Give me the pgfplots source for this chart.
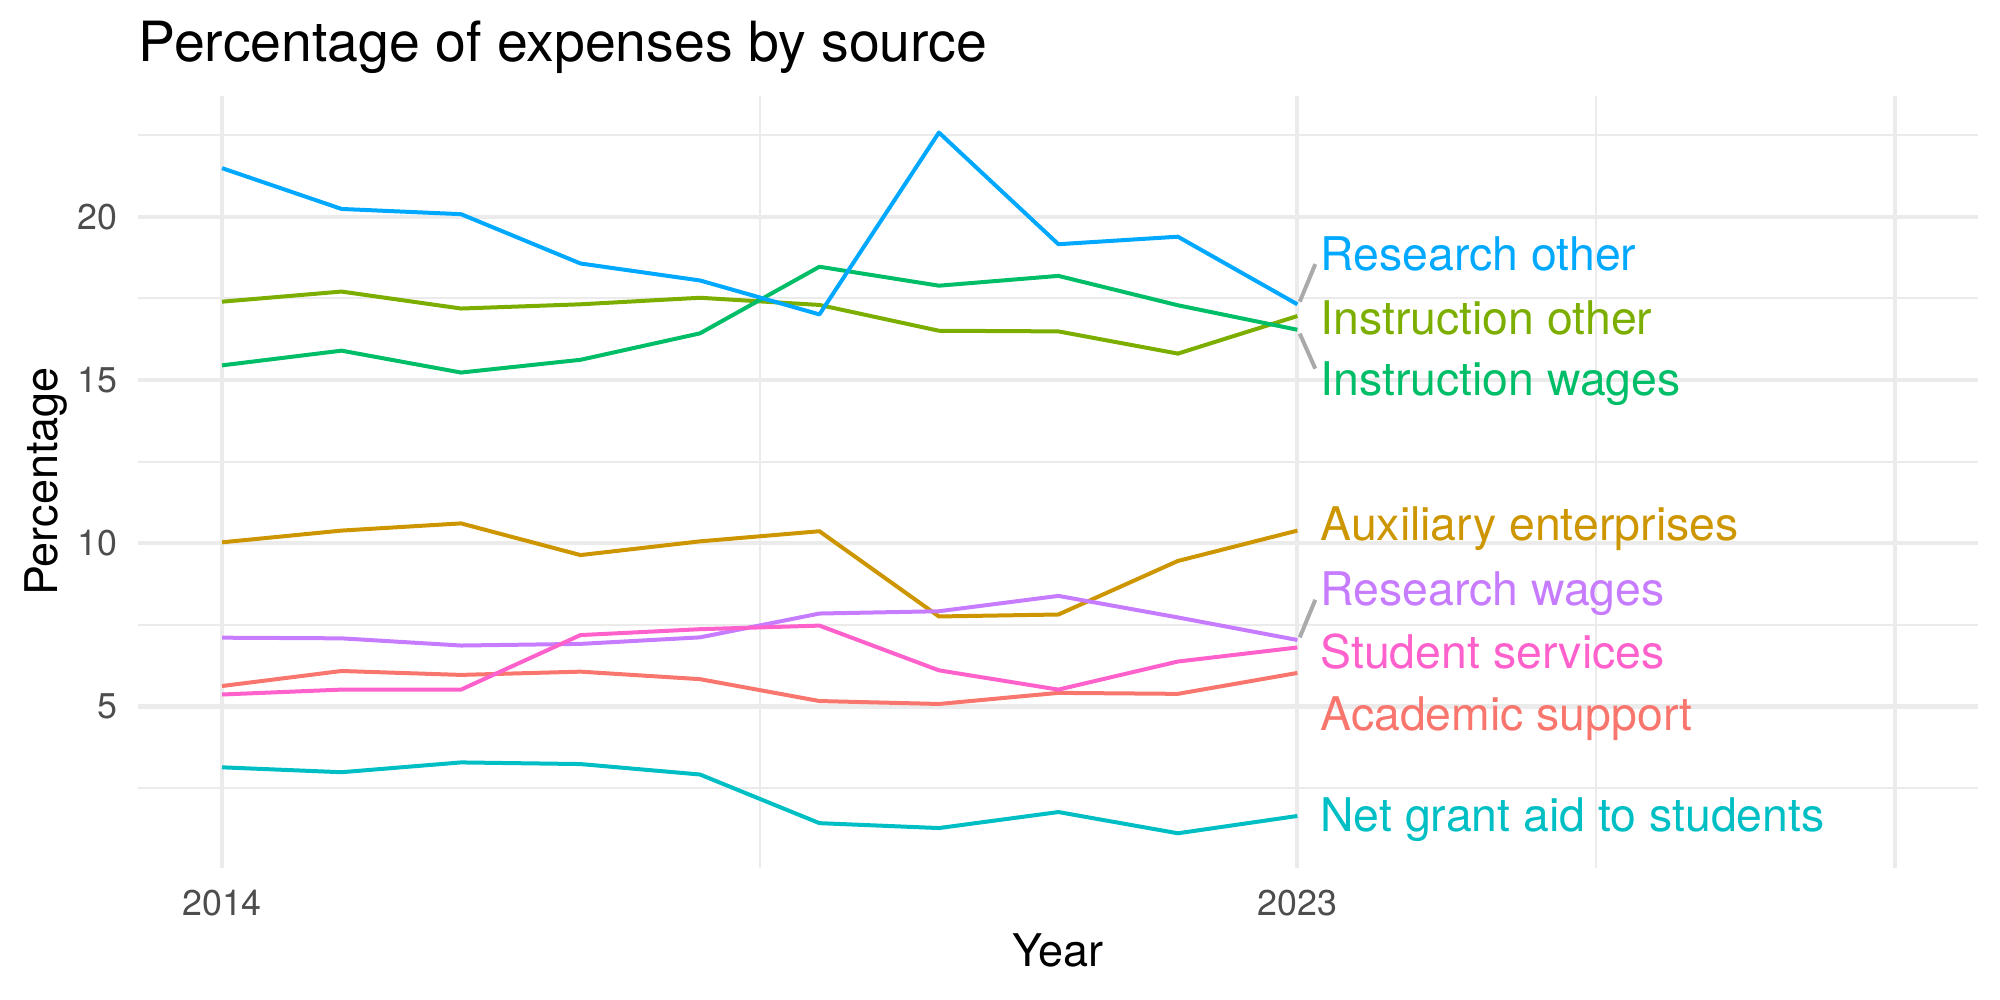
\documentclass[border=0pt]{standalone}
\usepackage{fontspec}
\setmainfont{TeX Gyre Heros}
\usepackage{pgfplots}
\usepackage{pgfplotstable}
\pgfplotsset{compat=1.18}
\definecolor{cAS}{HTML}{F8766D}
\definecolor{cAE}{HTML}{CD9600}
\definecolor{cIO}{HTML}{7CAE00}
\definecolor{cIW}{HTML}{00BE67}
\definecolor{cNG}{HTML}{00BFC4}
\definecolor{cRO}{HTML}{00A9FF}
\definecolor{cRW}{HTML}{C77CFF}
\definecolor{cSS}{HTML}{FF61CC}
\definecolor{gridc}{HTML}{EBEBEB}
\definecolor{tickc}{HTML}{4D4D4D}
\definecolor{segc}{HTML}{AAAAAA}

\pgfplotstableread{
year AS AE IO IW NG RO RW SS
2014 5.63 10.03 17.40 15.45 3.14 21.49 7.11 5.37
2015 6.09 10.39 17.71 15.90 2.99 20.24 7.09 5.52
2016 5.97 10.61 17.19 15.23 3.29 20.08 6.87 5.52
2017 6.07 9.64 17.32 15.62 3.24 18.57 6.92 7.19
2018 5.84 10.06 17.52 16.43 2.92 18.05 7.12 7.37
2019 5.17 10.37 17.30 18.47 1.43 17.01 7.85 7.48
2020 5.08 7.76 16.51 17.89 1.28 22.58 7.92 6.11
2021 5.42 7.82 16.49 18.19 1.77 19.16 8.39 5.52
2022 5.39 9.46 15.81 17.29 1.12 19.39 7.73 6.38
2023 6.03 10.39 16.96 16.54 1.65 17.32 7.04 6.81
}\datatable

\begin{document}
\begin{tikzpicture}
\begin{axis}[
  at={(69.2bp,66.05bp)}, anchor=south west,
  scale only axis, width=920bp, height=385.8bp,
  xmin=2013.3, xmax=2028.7, ymin=0.06, ymax=23.69,
  axis line style={draw=none},
  major tick length=0pt, minor tick length=0pt,
  xtick={2014,2023,2028}, xticklabels={2014,2023,{}},
  minor xtick={2018.5,2025.5},
  ytick={5,10,15,20}, yticklabels={5,10,15,20},
  minor ytick={2.5,7.5,12.5,17.5,22.5},
  grid=both,
  major grid style={draw=gridc, line width=2.1bp},
  minor grid style={draw=gridc, line width=1.05bp},
  tick label style={font=\fontsize{17.9bp}{20bp}\selectfont, text=tickc, inner sep=0pt},
  xticklabel style={anchor=north, yshift=-10.7bp},
  yticklabel style={anchor=east, xshift=-10.5bp},
  clip=false,
  every axis plot/.append style={line width=2bp, line join=round, no markers},
]
\addplot[cAS] table[x=year, y=AS] {\datatable};
\addplot[cAE] table[x=year, y=AE] {\datatable};
\addplot[cIO] table[x=year, y=IO] {\datatable};
\addplot[cIW] table[x=year, y=IW] {\datatable};
\addplot[cNG] table[x=year, y=NG] {\datatable};
\addplot[cRO] table[x=year, y=RO] {\datatable};
\addplot[cRW] table[x=year, y=RW] {\datatable};
\addplot[cSS] table[x=year, y=SS] {\datatable};
% ggrepel connector segments
\addplot[segc] coordinates {(2023.02,17.40) (2023.15,18.55)};
\addplot[segc] coordinates {(2023.02,16.42) (2023.15,15.35)};
\addplot[segc] coordinates {(2023.02,7.12) (2023.15,8.27)};
% labels
\begin{scope}[every node/.style={anchor=base west, inner sep=0pt, font=\fontsize{23.2bp}{26bp}\selectfont}]
\node[text=cRO] at (axis cs:2023.19,18.35) {Research other};
\node[text=cIO] at (axis cs:2023.19,16.41) {Instruction other};
\node[text=cIW] at (axis cs:2023.19,14.52) {Instruction wages};
\node[text=cAE] at (axis cs:2023.19,10.10) {Auxiliary enterprises};
\node[text=cRW] at (axis cs:2023.19,8.11) {Research wages};
\node[text=cSS] at (axis cs:2023.19,6.18) {Student services};
\node[text=cAS] at (axis cs:2023.19,4.26) {Academic support};
\node[text=cNG] at (axis cs:2023.19,1.16) {Net grant aid to students};
\end{scope}
\end{axis}
\node[anchor=base west, inner sep=0pt, font=\fontsize{27.7bp}{30bp}\selectfont] at (69.2bp,469.2bp) {Percentage of expenses by source};
\node[anchor=base, inner sep=0pt, font=\fontsize{22.5bp}{26bp}\selectfont] at (529bp,16.7bp) {Year};
\node[rotate=90, anchor=base, inner sep=0pt, font=\fontsize{22.5bp}{26bp}\selectfont] at (28.9bp,259.25bp) {Percentage};
\pgfresetboundingbox
\useasboundingbox (0,0) rectangle (1000bp,500bp);
\end{tikzpicture}
\end{document}
